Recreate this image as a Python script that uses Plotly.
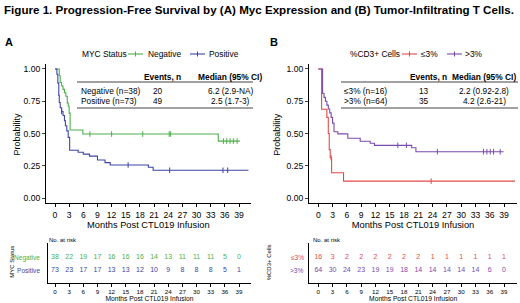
import plotly.graph_objects as go

W, H = 520, 303
FONT = "Liberation Sans, Arial, sans-serif"

# ---------------- data ----------------
neg_t = [0, 0.9, 1.1, 1.4, 1.7, 2.0, 2.3, 2.6, 2.8, 3.0, 3.2, 5.9, 34.6, 39.2]
neg_s = [1.0, 0.947, 0.895, 0.868, 0.842, 0.816, 0.789, 0.737, 0.711, 0.658, 0.527, 0.496, 0.441, 0.441]
neg_cens = [7.4, 12.0, 18.6, 24.2, 24.5, 35.7, 36.4, 37.1, 37.8, 38.6]

pos_t = [0, 0.4, 0.6, 0.8, 0.9, 1.1, 1.4, 1.7, 2.0, 2.2, 2.5, 2.8, 3.1, 4.9, 6.0, 7.3, 9.0, 10.6, 11.7, 19.8, 20.8, 41.0]
pos_s = [1.0, 0.959, 0.89, 0.795, 0.74, 0.70, 0.67, 0.64, 0.60, 0.56, 0.52, 0.47, 0.37, 0.355, 0.34, 0.325, 0.295, 0.274, 0.256, 0.238, 0.215, 0.215]
pos_cens = [1.4, 15.5, 24.3, 35.6, 36.6]

le3_t = [0, 0.7, 1.8, 2.1, 2.3, 2.5, 2.8, 5.3, 41.3]
le3_s = [1.0, 0.6875, 0.625, 0.5, 0.375, 0.3125, 0.196, 0.131, 0.131]
le3_cens = [2.7, 23.7]

gt3_t = [0, 0.9, 1.2, 1.5, 1.8, 2.1, 2.4, 2.7, 3.0, 3.3, 4.1, 6.2, 8.8, 10.9, 11.8, 19.6, 20.5, 38.9]
gt3_s = [1.0, 0.81, 0.78, 0.75, 0.72, 0.69, 0.66, 0.625, 0.58, 0.514, 0.497, 0.463, 0.44, 0.424, 0.408, 0.39, 0.359, 0.359]
gt3_cens = [16.7, 18.5, 25.0, 34.7, 35.4, 36.1, 36.8, 38.2]

risk_times = [0, 3, 6, 9, 12, 15, 18, 21, 24, 27, 30, 33, 36, 39]
risk_neg = [38, 22, 19, 17, 16, 16, 16, 14, 13, 11, 11, 11, 5, 0]
risk_pos = [73, 23, 17, 17, 13, 13, 12, 10, 9, 8, 8, 8, 5, 1]
risk_le3 = [16, 3, 2, 2, 2, 2, 2, 2, 1, 1, 1, 1, 1, 1]
risk_gt3 = [64, 30, 24, 23, 19, 19, 18, 14, 14, 14, 14, 14, 6, 0]

tableA = [["Negative (n=38)", "20", "6.2 (2.9-NA)"], ["Positive (n=73)", "49", "2.5 (1.7-3)"]]
tableB = [["≤3% (n=16)", "13", "2.2 (0.92-2.8)"], [">3% (n=64)", "35", "4.2 (2.6-21)"]]

GREEN = "#4daf4a"
BLUE = "#3c46a5"
RED = "#e34a4a"
PURPLE = "#7b4aad"


def px(x):
    return x / W


def py(y):
    return 1 - y / H


def surv_at(ts, ss, t):
    v = ss[0]
    for ti, si in zip(ts, ss):
        if ti <= t:
            v = si
    return v


fig = go.Figure()


def km(ts, ss, cens, color, xa, ya):
    fig.add_trace(go.Scatter(x=ts, y=ss, mode="lines", line=dict(color=color, width=1.1, shape="hv"),
                             xaxis=xa, yaxis=ya, showlegend=False, hoverinfo="skip"))
    fig.add_trace(go.Scatter(x=cens, y=[surv_at(ts, ss, c) for c in cens], mode="markers",
                             marker=dict(symbol="line-ns-open", size=4, color=color,
                                         line=dict(color=color, width=1)),
                             xaxis=xa, yaxis=ya, showlegend=False, hoverinfo="skip"))


km(neg_t, neg_s, neg_cens, GREEN, "x", "y")
km(pos_t, pos_s, pos_cens, BLUE, "x", "y")
km(le3_t, le3_s, le3_cens, RED, "x2", "y2")
km(gt3_t, gt3_s, gt3_cens, PURPLE, "x2", "y2")

# risk tables
for vals, row, color in [(risk_neg, 1, GREEN), (risk_pos, 0, BLUE)]:
    fig.add_trace(go.Scatter(x=risk_times, y=[row] * len(risk_times), mode="text", text=[str(v) for v in vals],
                             textfont=dict(size=7, color=color, family=FONT), xaxis="x3", yaxis="y3",
                             showlegend=False, hoverinfo="skip"))
for vals, row, color in [(risk_le3, 1, RED), (risk_gt3, 0, PURPLE)]:
    fig.add_trace(go.Scatter(x=risk_times, y=[row] * len(risk_times), mode="text", text=[str(v) for v in vals],
                             textfont=dict(size=7, color=color, family=FONT), xaxis="x4", yaxis="y4",
                             showlegend=False, hoverinfo="skip"))

ticks = dict(tickvals=risk_times, ticktext=[str(t) for t in risk_times])
common_x = dict(showline=True, linecolor="black", linewidth=1, ticks="outside", tickwidth=1,
                tickcolor="black", showgrid=False, zeroline=False, fixedrange=True, **ticks)
common_y = dict(showline=True, linecolor="black", linewidth=1, showgrid=False, zeroline=False, fixedrange=True)

main_x_title = dict(text="Months Post CTL019 Infusion", font=dict(size=9.3, color="black"), standoff=1)
risk_x_title = dict(text="Months Post CTL019 Infusion", font=dict(size=6.7, color="black"), standoff=0)

ydom_main = [py(203.2), py(63.8)]
ydom_risk = [py(283), py(243)]
risk_yrange = [-(283 - 270) / 12.5, 1 + (257.5 - 243) / 12.5]

fig.update_layout(
    width=W, height=H, autosize=False,
    margin=dict(l=0, r=0, t=0, b=0),
    paper_bgcolor="white", plot_bgcolor="white",
    font=dict(family=FONT, color="black"),
    showlegend=False,
    xaxis=dict(domain=[px(46), px(250.7)], range=[-1.91, 41.48], tickfont=dict(size=8.6), ticklen=3,
               title=main_x_title, anchor="y", **common_x),
    yaxis=dict(domain=ydom_main, range=[-0.04, 1.04], tickvals=[0, 0.25, 0.5, 0.75, 1.0],
               ticktext=["0.00", "0.25", "0.50", "0.75", "1.00"], ticks="outside", ticklen=3,
               tickfont=dict(size=8.6), anchor="x", **common_y),
    xaxis2=dict(domain=[px(309), px(517)], range=[-1.95, 41.72], tickfont=dict(size=8.6), ticklen=3,
                title=main_x_title, anchor="y2", **common_x),
    yaxis2=dict(domain=ydom_main, range=[-0.04, 1.04], tickvals=[0, 0.25, 0.5, 0.75, 1.0],
                ticktext=["0.00", "0.25", "0.50", "0.75", "1.00"], ticks="outside", ticklen=3,
                tickfont=dict(size=8.6), anchor="x2", **common_y),
    xaxis3=dict(domain=[px(48.3), px(250.7)], range=[-1.42, 41.48], tickfont=dict(size=6.2), ticklen=2.5,
                title=risk_x_title, anchor="y3", **common_x),
    yaxis3=dict(domain=ydom_risk, range=risk_yrange, showticklabels=False, ticks="", anchor="x3", **common_y),
    xaxis4=dict(domain=[px(309.3), px(517)], range=[-1.89, 41.72], tickfont=dict(size=6.2), ticklen=2.5,
                title=risk_x_title, anchor="y4", **common_x),
    yaxis4=dict(domain=ydom_risk, range=risk_yrange, showticklabels=False, ticks="", anchor="x4", **common_y),
)

ann = []
shapes = []


def text(x, y, s, size, xanchor="left", bold=False, color="black", angle=0):
    ann.append(dict(x=px(x), y=py(y), xref="paper", yref="paper",
                    text=f"<b>{s}</b>" if bold else s, showarrow=False, xanchor=xanchor, yanchor="middle",
                    textangle=angle, font=dict(size=size, color=color, family=FONT)))


def legend_key(x, y, color):
    shapes.append(dict(type="line", xref="paper", yref="paper", x0=px(x), x1=px(x + 15), y0=py(y), y1=py(y),
                       line=dict(color=color, width=1.1)))
    shapes.append(dict(type="line", xref="paper", yref="paper", x0=px(x + 7.5), x1=px(x + 7.5),
                       y0=py(y - 2.5), y1=py(y + 2.5), line=dict(color=color, width=1)))


text(1.5, 10, "Figure 1. Progression-Free Survival by (A) Myc Expression and (B) Tumor-Infiltrating T Cells.",
     11.6, bold=True)
text(3, 42, "A", 11, bold=True)
text(268, 42, "B", 11, bold=True)
text(16.5, 134, "Probability", 9, xanchor="center", angle=-90)
text(276.7, 134, "Probability", 9, xanchor="center", angle=-90)

# legends
text(80, 54, "MYC Status", 8.4)
legend_key(128, 54, GREEN)
text(146, 54, "Negative", 8.4)
legend_key(190, 54, BLUE)
text(207, 54, "Positive", 8.4)

text(348, 54, "%CD3+ Cells", 8.4)
legend_key(402, 54, RED)
text(419, 54, "≤3%", 8.4)
legend_key(447, 54, PURPLE)
text(463, 54, ">3%", 8.4)

# summary tables
for (x0, x1, tab, cols) in [(77, 253, tableA, (79, 158, 230)), (341, 518, tableB, (342, 424, 484))]:
    shapes.append(dict(type="line", xref="paper", yref="paper", x0=px(x0), x1=px(x1), y0=py(82), y1=py(82),
                       line=dict(color="#444", width=1)))
    shapes.append(dict(type="line", xref="paper", yref="paper", x0=px(x0), x1=px(x1), y0=py(108), y1=py(108),
                       line=dict(color="#444", width=1)))
    text(cols[1] + 4, 76.5, "Events, n", 8.4, xanchor="center", bold=True)
    text(cols[2], 76.5, "Median (95% CI)", 8.4, xanchor="center", bold=True)
    for i, row in enumerate(tab):
        yy = 91 + i * 9.5
        text(cols[0], yy, row[0], 8.3)
        text(cols[1], yy, row[1], 8.3, xanchor="center")
        text(cols[2], yy, row[2], 8.3, xanchor="center")

# risk table labels
text(47, 240, "No. at risk", 6)
text(311, 240, "No. at risk", 6)
ann.append(dict(x=px(42), y=1, xref="paper", yref="y3", text="Negative", showarrow=False, xanchor="right",
                font=dict(size=6.6, color=GREEN, family=FONT)))
ann.append(dict(x=px(42), y=0, xref="paper", yref="y3", text="Positive", showarrow=False, xanchor="right",
                font=dict(size=6.6, color=BLUE, family=FONT)))
ann.append(dict(x=px(306), y=1, xref="paper", yref="y4", text="≤3%", showarrow=False, xanchor="right",
                font=dict(size=6.6, color=RED, family=FONT)))
ann.append(dict(x=px(306), y=0, xref="paper", yref="y4", text=">3%", showarrow=False, xanchor="right",
                font=dict(size=6.6, color=PURPLE, family=FONT)))
text(11.7, 262, "MYC Status", 6, xanchor="center", angle=-90)
text(269.3, 262, "%CD3+ Cells", 6, xanchor="center", angle=-90)

fig.update_layout(annotations=ann, shapes=shapes)
fig.write_html("out.html", config={"displayModeBar": False},
               post_script="document.body.style.margin='0px';")
